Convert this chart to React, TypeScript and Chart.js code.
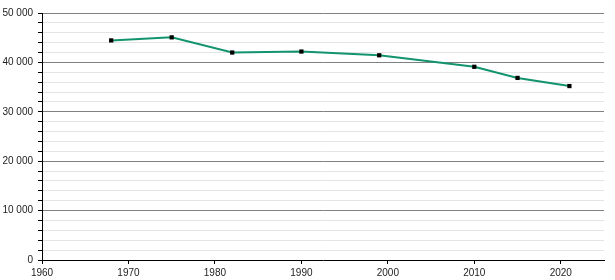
import React, { useEffect, useRef } from "react";
import { Chart, registerables } from "chart.js";

Chart.register(...registerables);

const years = [1968, 1975, 1982, 1990, 1999, 2010, 2015, 2021];
const population = [44450, 45070, 42000, 42200, 41440, 39110, 36860, 35210];
const xTickLabels = [1960, 1970, 1980, 1990, 2000, 2010, 2020];
const yMajorStep = 10000;

export default function App() {
  const ref = useRef<HTMLCanvasElement>(null);
  useEffect(() => {
    if (!ref.current) return;
    const chart = new Chart(ref.current, {
      type: "line",
      data: {
        datasets: [
          {
            data: years.map((y, i) => ({ x: y, y: population[i] })),
            borderColor: "#13946e",
            borderWidth: 2,
            pointStyle: "rect",
            pointRadius: 3,
            pointBackgroundColor: "#000",
            pointBorderWidth: 0,
            tension: 0,
          },
        ],
      },
      options: {
        animation: false,
        responsive: false,
        maintainAspectRatio: false,
        layout: { padding: { top: 13, right: 11, left: 0, bottom: 0 } },
        plugins: { legend: { display: false }, tooltip: { enabled: false } },
        scales: {
          x: {
            type: "linear",
            min: 1960,
            max: 2025,
            afterBuildTicks: (s: any) => {
              s.ticks = xTickLabels.map((v) => ({ value: v }));
            },
            afterFit: (s: any) => {
              s.height = 20;
            },
            border: { color: "#000", width: 1 },
            grid: { drawOnChartArea: false, drawTicks: true, tickLength: 4, tickColor: "#000" },
            ticks: {
              stepSize: 10,
              padding: 3,
              color: "#222",
              font: { family: "Liberation Sans, Arial", size: 10 },
              maxRotation: 0,
              callback: (v: any) => String(v),
            },
          },
          y: {
            min: 0,
            max: 50000,
            afterFit: (s: any) => {
              s.width = 42;
            },
            border: { color: "#000", width: 1 },
            grid: {
              color: (c: any) =>
                c.tick && c.tick.value === 0
                  ? "rgba(0,0,0,0)"
                  : c.tick && c.tick.value % yMajorStep === 0
                  ? "#808080"
                  : "#e4e4e4",
              tickColor: "#000",
              tickLength: 4,
              lineWidth: 1,
            },
            ticks: {
              stepSize: 2000,
              autoSkip: false,
              padding: 5,
              color: "#222",
              font: { family: "Liberation Sans, Arial", size: 10 },
              callback: (v: any) =>
                Number(v) % yMajorStep === 0
                  ? String(v).replace(/\B(?=(\d{3})+(?!\d))/g, " ")
                  : "",
            },
          },
        },
      },
    });
    return () => chart.destroy();
  }, []);
  return (
    <div style={{ position: "fixed", left: 0, top: 0, width: 615, height: 280, background: "#fff" }}>
      <canvas ref={ref} width={615} height={280} style={{ width: 615, height: 280 }} />
    </div>
  );
}
